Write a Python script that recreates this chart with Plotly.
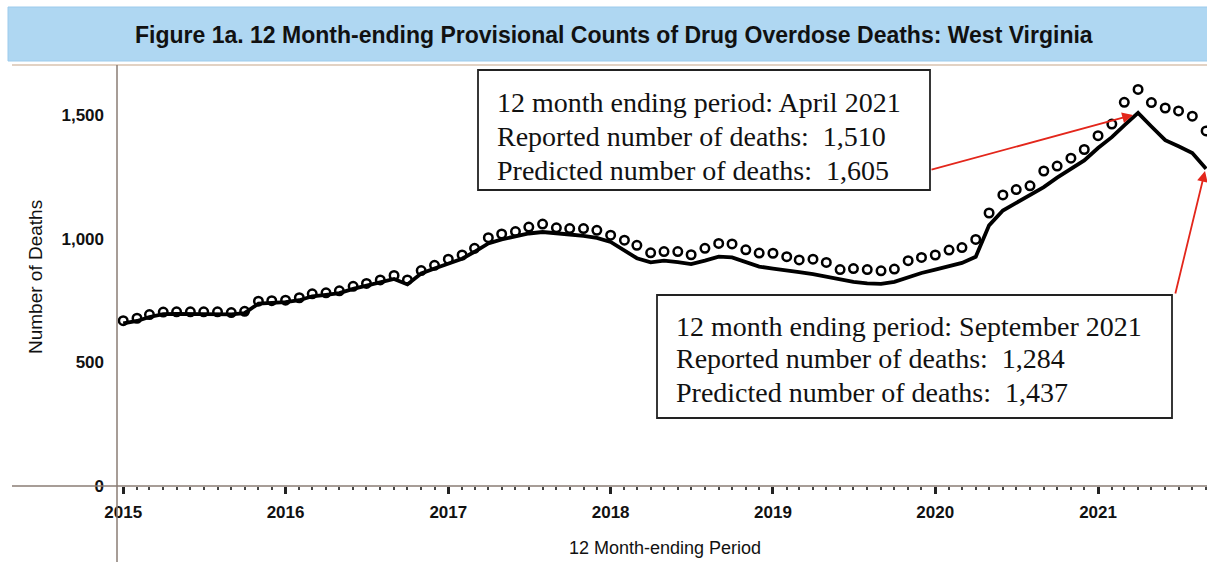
import pandas as pd
import plotly.graph_objects as go

# ---- data ----
months = pd.date_range("2015-01-01", periods=81, freq="MS")

predicted = [
    # 2015
    669, 679, 694, 704, 705, 705, 705, 705, 702, 707, 748, 750,
    # 2016
    752, 762, 778, 782, 790, 808, 820, 834, 852, 834, 872, 893,
    # 2017
    918, 935, 962, 1005, 1020, 1030, 1048, 1060, 1045, 1042, 1042, 1035,
    # 2018
    1015, 995, 974, 944, 949, 949, 936, 962, 982, 980, 956, 943,
    # 2019
    942, 928, 915, 918, 905, 876, 880, 876, 871, 878, 912, 925,
    # 2020
    935, 955, 965, 998, 1105, 1178, 1200, 1215, 1275, 1295, 1327, 1362,
    # 2021
    1418, 1465, 1553, 1605, 1552, 1530, 1518, 1497, 1437,
]

reported = [
    # 2015
    658, 668, 684, 696, 697, 697, 697, 697, 695, 700, 738, 741,
    # 2016
    744, 752, 768, 774, 781, 798, 810, 824, 838, 816, 860, 880,
    # 2017
    902, 920, 948, 982, 998, 1012, 1022, 1028, 1024, 1018, 1012, 1004,
    # 2018
    988, 955, 922, 905, 912, 906, 898, 912, 928, 925, 905, 888,
    # 2019
    880, 874, 866, 858, 848, 836, 826, 820, 818, 826, 845, 862,
    # 2020
    876, 888, 903, 928, 1055, 1115, 1145, 1175, 1210, 1248, 1283, 1318,
    # 2021
    1368, 1412, 1460, 1510, 1455, 1400, 1375, 1348, 1284,
]

year_ticks = ["2015-01-01", "2016-01-01", "2017-01-01", "2018-01-01",
              "2019-01-01", "2020-01-01", "2021-01-01"]
year_labels = ["2015", "2016", "2017", "2018", "2019", "2020", "2021"]
y_ticks = [0, 500, 1000, 1500]
y_labels = ["0", "500", "1,000", "1,500"]

title_text = "Figure 1a. 12 Month-ending Provisional Counts of Drug Overdose Deaths: West Virginia"
box1_lines = ["12 month ending period: April 2021",
              "Reported number of deaths:\u00a0 1,510",
              "Predicted number of deaths:\u00a0 1,605"]
box2_lines = ["12 month ending period: September 2021",
              "Reported number of deaths:\u00a0 1,284",
              "Predicted number of deaths:\u00a0 1,437"]

# ---- geometry (body margin removed via post_script, figure fills the window) ----
W, H = 1207, 562
L, R, T, B = 117, 0, 65, 562 - 486
PW, PH = W - L - R, H - T - B


def px(x):
    return (x - L) / PW


def py(y):
    return (H - B - y) / PH


fig = go.Figure()
fig.add_trace(go.Scatter(
    x=months, y=reported, mode="lines",
    line=dict(color="black", width=3.8),
    hoverinfo="skip", showlegend=False))
fig.add_trace(go.Scatter(
    x=months, y=predicted, mode="markers",
    marker=dict(symbol="circle-open", size=8.5, color="black",
                line=dict(width=2.5, color="black")),
    hoverinfo="skip", showlegend=False))

axis_col = "#8a7d74"
shapes = [
    # title band
    dict(type="rect", xref="paper", yref="paper", x0=px(8), x1=px(1210),
         y0=py(61), y1=py(7), fillcolor="#afd7f2",
         line=dict(color="#9ccbec", width=1), layer="below"),
    # top border line
    dict(type="line", xref="paper", yref="paper", x0=px(12), x1=1,
         y0=1, y1=1, line=dict(color="#d8c3b0", width=1.5)),
    # y axis line (extends below)
    dict(type="line", xref="paper", yref="paper", x0=0, x1=0,
         y0=py(562), y1=1, line=dict(color=axis_col, width=1.5)),
    # x axis line (extends left)
    dict(type="line", xref="paper", yref="paper", x0=px(12), x1=1,
         y0=0, y1=0, line=dict(color=axis_col, width=1.5)),
    # annotation boxes
    dict(type="rect", xref="paper", yref="paper", x0=px(478), x1=px(930),
         y0=py(190), y1=py(70), fillcolor="white",
         line=dict(color="#222", width=1.8), layer="above"),
    dict(type="rect", xref="paper", yref="paper", x0=px(657), x1=px(1172),
         y0=py(418), y1=py(295), fillcolor="white",
         line=dict(color="#222", width=1.8), layer="above"),
]

serif = dict(family="Liberation Serif, Times New Roman, serif", size=28, color="#111")
annotations = [
    dict(text=title_text, xref="paper", yref="paper", x=px(614), y=py(35),
         showarrow=False, xanchor="center", yanchor="middle",
         font=dict(family="Liberation Sans, Arial", size=23, color="#111", weight="bold")),
    dict(text="Number of Deaths", xref="paper", yref="paper", x=px(35), y=py(277),
         showarrow=False, textangle=-90, xanchor="center", yanchor="middle",
         font=dict(family="Liberation Sans, Arial", size=19, color="#111")),
    dict(text="12 Month-ending Period", xref="paper", yref="paper", x=px(665), y=py(548),
         showarrow=False, xanchor="center", yanchor="middle",
         font=dict(family="Liberation Sans, Arial", size=18, color="#111")),
]
for txt, yy in zip(box1_lines, [103, 136, 170]):
    annotations.append(dict(text=txt, xref="paper", yref="paper", x=px(495), y=py(yy),
                            showarrow=False, xanchor="left", yanchor="middle", font=serif))
for txt, yy in zip(box2_lines, [326, 358, 392]):
    annotations.append(dict(text=txt, xref="paper", yref="paper", x=px(674), y=py(yy),
                            showarrow=False, xanchor="left", yanchor="middle", font=serif))
# arrows
red = "#e3261b"
annotations.append(dict(text="", xref="paper", yref="paper", x=px(1133), y=py(115),
                        ax=930 - 1133, ay=170 - 115, showarrow=True, arrowhead=2,
                        arrowsize=1.2, arrowwidth=1.8, arrowcolor=red, standoff=0))
annotations.append(dict(text="", xref="paper", yref="paper", x=px(1205), y=py(171),
                        ax=1175 - 1205, ay=295 - 171, showarrow=True, arrowhead=2,
                        arrowsize=1.2, arrowwidth=1.8, arrowcolor=red, standoff=0))

tickfont = dict(family="Liberation Sans, Arial", size=17, color="#111", weight="bold")
fig.update_layout(
    width=W, height=H, autosize=False,
    margin=dict(l=L, r=R, t=T, b=B, pad=0),
    paper_bgcolor="white", plot_bgcolor="white",
    shapes=shapes, annotations=annotations,
    xaxis=dict(type="date", range=["2014-12-18", "2021-09-03"],
               showline=False, showgrid=False, zeroline=False,
               tickmode="array", tickvals=year_ticks, ticktext=year_labels,
               ticks="outside", ticklen=7, tickwidth=2.5, tickcolor="#222",
               tickfont=tickfont, ticklabelstandoff=4,
               minor=dict(dtick="M1", tick0="2015-01-01", ticks="outside",
                          ticklen=3, tickwidth=1.5, tickcolor="#444", showgrid=False)),
    yaxis=dict(range=[0, 1704], showline=False, showgrid=False, zeroline=False,
               tickmode="array", tickvals=y_ticks, ticktext=y_labels,
               ticks="", tickfont=tickfont, ticklabelstandoff=12),
)

fig.write_html(
    "out.html",
    config={"displayModeBar": False},
    post_script="document.body.style.margin='0';document.body.style.overflow='hidden';",
)
